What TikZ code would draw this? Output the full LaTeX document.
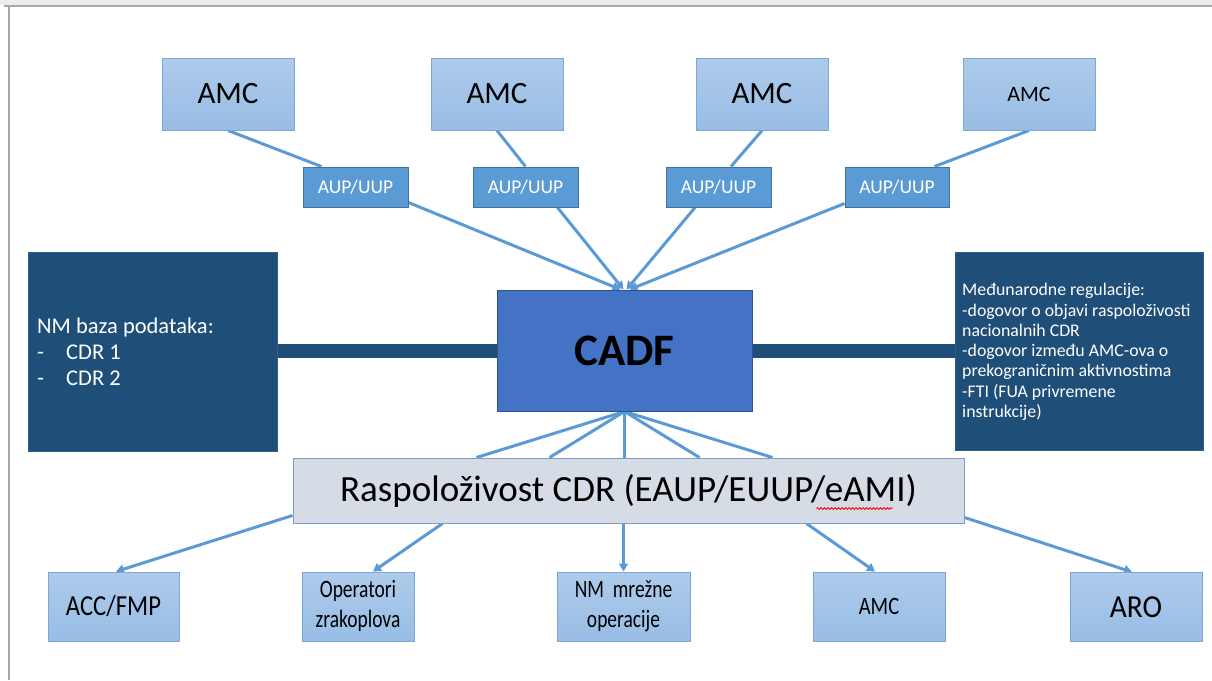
\documentclass[tikz,border=0pt]{standalone}
\usepackage{fontspec}
\usepackage{graphicx}
\setmainfont{Carlito}
\usetikzlibrary{arrows.meta,calc,backgrounds,decorations.pathmorphing}
\definecolor{lineblue}{HTML}{5B9BD5}
\definecolor{aupfill}{HTML}{5B9BD5}
\definecolor{aupdraw}{HTML}{41719C}
\definecolor{lighttop}{HTML}{AECBEB}
\definecolor{lightbot}{HTML}{98BDE5}
\definecolor{lightdraw}{HTML}{7EA6D6}
\definecolor{cadffill}{HTML}{4472C4}
\definecolor{cadfdraw}{HTML}{2F528F}
\definecolor{darkfill}{HTML}{1F4E79}
\definecolor{darkdraw}{HTML}{2E5E8C}
\definecolor{rasfill}{HTML}{D6DCE5}
\definecolor{rasdraw}{HTML}{7F9CC4}
\definecolor{framegray}{HTML}{A8A8A8}
\begin{document}
\begin{tikzpicture}[x=1pt,y=-1pt,
  lightbox/.style={draw=lightdraw,line width=1pt,top color=lighttop,bottom color=lightbot,
    inner sep=0pt,minimum width=132pt,minimum height=72pt,text=black,align=center},
  aupbox/.style={draw=aupdraw,line width=1pt,fill=aupfill,inner sep=0pt,
    minimum width=105pt,minimum height=40pt,text=white,font=\fontsize{19.5}{22}\selectfont},
  darkbox/.style={draw=darkdraw,line width=1pt,fill=darkfill,inner sep=0pt,
    minimum width=249pt,minimum height=199pt},
  conn/.style={draw=lineblue,line width=3pt},
  arr/.style={conn,-{Triangle[length=8pt,width=9pt]}},
  thick conn/.style={draw=darkfill,line width=14pt}]
\useasboundingbox (0,0) rectangle (1212,680);
% top row
\node[lightbox,font=\fontsize{31}{36}\selectfont] (amc1) at (228,94) {AMC};
\node[lightbox,font=\fontsize{31}{36}\selectfont] (amc2) at (497,94) {AMC};
\node[lightbox,font=\fontsize{31}{36}\selectfont] (amc3) at (762,94) {AMC};
\node[lightbox,font=\fontsize{22}{26}\selectfont] (amc4) at (1029,94) {AMC};
\node[aupbox] (aup1) at (355.5,187) {AUP/UUP};
\node[aupbox] (aup2) at (525.5,187) {AUP/UUP};
\node[aupbox] (aup3) at (718.5,187) {AUP/UUP};
\node[aupbox,minimum width=104pt] (aup4) at (897,187) {AUP/UUP};
% centre
\node[draw=cadfdraw,line width=1pt,fill=cadffill,inner sep=0pt,minimum width=255pt,
  minimum height=121pt,font=\fontsize{45}{50}\selectfont\bfseries] (cadf) at (624.5,350.5) {CADF};
\node[darkbox] (nm) at (152.5,351.5) {};
\node[anchor=west,text=white,align=left,inner sep=0pt,
  font=\fontsize{22.5}{26}\selectfont] (nmtext) at (37,352)
  {NM baza podataka:\\\makebox[29pt][l]{-}CDR 1\\\makebox[29pt][l]{-}CDR 2};
\node[darkbox,minimum width=248pt,minimum height=198pt] (mr) at (1079,351) {};
\node[anchor=west,text=white,align=left,inner sep=0pt,
  font=\fontsize{17.8}{20.3}\selectfont] (mrtext) at (962,352)
  {Međunarodne regulacije:\\-dogovor o objavi raspoloživosti\\nacionalnih CDR\\-dogovor između AMC-ova o\\prekograničnim aktivnostima\\-FTI (FUA privremene\\instrukcije)};
\node[draw=rasdraw,line width=1pt,fill=rasfill,inner sep=0pt,minimum width=671pt,
  minimum height=65pt,font=\fontsize{37}{42}\selectfont] (ras) at (628.5,490.5)
  {Raspoloživost CDR (EAUP/EUUP/eAMI)};
\draw[red,line width=0.8pt,decorate,decoration={snake,amplitude=1pt,segment length=3.5pt}]
  ($(ras.south west)+(524,-15)$) -- ($(ras.south west)+(600,-15)$);
% bottom row
\node[lightbox,minimum width=131pt,minimum height=69pt] (acc) at (113.5,606.5)
  {\scalebox{0.85}[1]{\fontsize{29}{32}\selectfont ACC/FMP}};
\node[lightbox,minimum width=112pt,minimum height=69pt] (opr) at (358,606.5)
  {\scalebox{0.78}[1]{\fontsize{25}{30}\selectfont\begin{tabular}{@{}c@{}}Operatori\\zrakoplova\end{tabular}}};
\node[lightbox,minimum width=133pt,minimum height=69pt] (nmm) at (623.5,606.5)
  {\scalebox{0.78}[1]{\fontsize{25}{30}\selectfont\begin{tabular}{@{}c@{}}NM\ \ mrežne\\operacije\end{tabular}}};
\node[lightbox,minimum width=132pt,minimum height=69pt] (amcb) at (879,606.5)
  {\scalebox{0.82}[1]{\fontsize{25}{30}\selectfont AMC}};
\node[lightbox,minimum width=132pt,minimum height=69pt] (aro) at (1136,607)
  {\scalebox{0.92}[1]{\fontsize{32}{36}\selectfont ARO}};
\begin{scope}[on background layer]
  % screenshot frame
  \fill[gray!15] (0,0) rectangle (1212,5);
  \draw[framegray,line width=1.5pt] (4,6) -- (1212,6);
  \draw[framegray,line width=2pt] (9,6) -- (9,680);
  % AMC to AUP
  \draw[conn] (amc1.south) -- ($(aup1.north west)+(19,0)$);
  \draw[conn] (amc2.south) -- (aup2.north);
  \draw[conn] (amc3.south) -- ($(aup3.north)+(12.5,0)$);
  \draw[conn] (amc4.south) -- ($(aup4.north east)+(-15,0)$);
  % AUP to CADF
  \draw[arr] ($(aup1.south east)+(0,-5)$) -- ($(cadf.north)+(-4,0)$);
  \draw[arr] ($(aup2.south)+(32,0)$) -- ($(cadf.north)+(-1,0)$);
  \draw[arr] ($(aup3.south)+(-23.5,0)$) -- ($(cadf.north)+(2,0)$);
  \draw[arr] ($(aup4.south west)+(0,-4)$) -- ($(cadf.north)+(5,0)$);
  % thick links
  \draw[thick conn] (nm.east |- cadf.west) -- (cadf.west);
  \draw[thick conn] (cadf.east) -- (mr.west |- cadf.east);
  % fan CADF to availability box
  \draw[conn] (cadf.south) -- ($(ras.north west)+(184,0)$);
  \draw[conn] (cadf.south) -- ($(ras.north west)+(257,0)$);
  \draw[conn] (cadf.south) -- (cadf.south |- ras.north);
  \draw[conn] (cadf.south) -- ($(ras.north west)+(407,0)$);
  \draw[conn] (cadf.south) -- ($(ras.north west)+(480,0)$);
  % availability box to recipients
  \draw[arr] ($(ras.south west)+(0,-8)$) -- ($(acc.north)+(2.5,0)$);
  \draw[arr] ($(ras.south west)+(150,0)$) -- ($(opr.north)+(15,0)$);
  \draw[arr] (nmm.north |- ras.south) -- (nmm.north);
  \draw[arr] ($(ras.south west)+(514,0)$) -- ($(amcb.north)+(-4,0)$);
  \draw[arr] ($(ras.south east)+(0,-6)$) -- ($(aro.north)+(-4,0)$);
\end{scope}
\end{tikzpicture}
\end{document}
